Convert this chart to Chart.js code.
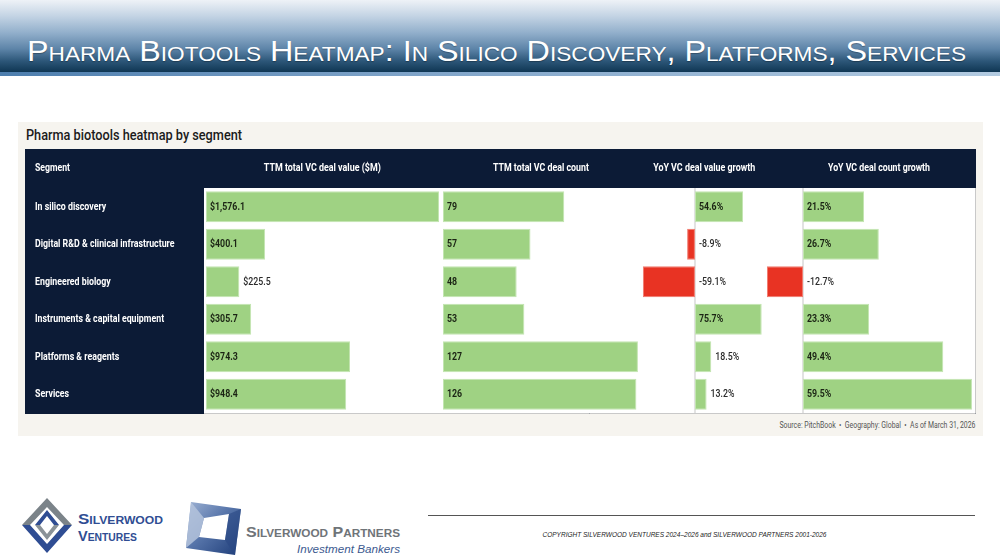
<!DOCTYPE html>
<html><head><meta charset="utf-8">
<script src="https://cdn.jsdelivr.net/npm/chart.js@4.4.1/dist/chart.umd.min.js"></script>
<style>
html,body{margin:0;padding:0;width:1000px;height:560px;overflow:hidden;background:#fff;font-family:Roboto,"Liberation Sans",sans-serif;}
.abs{position:absolute;}
.fit{display:inline-block;white-space:nowrap;}
#hdr{left:0;top:0;width:1000px;height:72px;background:linear-gradient(to bottom,#eef2f7 0%,#c4d4e4 22%,#93b0cc 45%,#5d84a8 68%,#2c5678 85%,#0f3653 100%);}
#stripe{left:0;top:72px;width:1000px;height:4px;background:linear-gradient(to right,#4d7eae 0%,#7ea3c8 40%,#b3cbe1 100%);}
#title{left:27px;top:34px;color:#fff;font-family:"Liberation Sans",Arial,sans-serif;font-size:30px;font-variant:small-caps;text-shadow:0 1px 1px rgba(0,0,0,0.3);}
#panel{left:18px;top:122px;width:965px;height:314px;background:#f6f4ef;}
#sub{left:26px;top:127px;font-size:14px;font-weight:500;color:#1b1b1b;}
#tbl{left:25px;top:149px;width:951px;height:265px;background:#0c1b36;}
.colh{top:161px;width:240px;text-align:center;color:#fff;font:bold 11px Roboto,sans-serif;}
#segh{left:35px;top:161px;color:#fff;font:bold 11px Roboto,sans-serif;}
#src{left:575px;width:400px;text-align:right;top:420px;color:#555;font:9px Roboto,sans-serif;}
#rule{left:428px;top:515px;width:547px;height:1px;background:#555;}
#copy{left:484px;width:400px;text-align:center;top:531px;font:italic 7px "Liberation Sans",Arial,sans-serif;color:#222;}
</style></head>
<body>
<div id="hdr" class="abs"></div>
<div id="stripe" class="abs"></div>
<div id="title" class="abs"><span class="fit" data-w="939" data-o="left">Pharma Biotools Heatmap: In Silico Discovery, Platforms, Services</span></div>
<div id="panel" class="abs"></div>
<div id="sub" class="abs"><span class="fit" data-w="216" data-o="left">Pharma biotools heatmap by segment</span></div>
<div id="tbl" class="abs"><canvas id="c" width="951" height="265"></canvas></div>
<div id="segh" class="abs"><span class="fit" data-w="35" data-o="left">Segment</span></div>
<div class="abs colh" style="left:202px"><span class="fit" id="hd0" data-w="117" data-o="center"></span></div>
<div class="abs colh" style="left:421px"><span class="fit" id="hd1" data-w="96" data-o="center"></span></div>
<div class="abs colh" style="left:584px"><span class="fit" id="hd2" data-w="102" data-o="center"></span></div>
<div class="abs colh" style="left:759px"><span class="fit" id="hd3" data-w="102" data-o="center"></span></div>
<div id="src" class="abs"><span class="fit" data-w="196" data-o="right">Source: PitchBook &nbsp;•&nbsp; Geography: Global &nbsp;•&nbsp; As of March 31, 2026</span></div>
<div id="rule" class="abs"></div>
<div id="copy" class="abs"><span class="fit" data-w="284" data-o="center">COPYRIGHT SILVERWOOD VENTURES 2024–2026 and SILVERWOOD PARTNERS 2001-2026</span></div>

<svg class="abs" style="left:0;top:480px" width="420" height="80" viewBox="0 480 420 80">
  <defs>
    <linearGradient id="pg" x1="0" y1="0" x2="1" y2="1">
      <stop offset="0" stop-color="#9fb3d4"/><stop offset="0.45" stop-color="#5876ab"/><stop offset="1" stop-color="#1d3c78"/>
    </linearGradient>
  </defs>
  <!-- Silverwood Ventures mark -->
  <polygon points="47,498 72,525 64,525 47,507 30,525 22,525" fill="#7b8389"/>
  <polygon points="22,525 30,525 47,544 64,525 72,525 47,553" fill="#2f4d93"/>
  <polygon points="47,510 59,525 54,525 47,516 40,525 35,525" fill="#2f4d93"/>
  <polygon points="35,525 40,525 47,534 54,525 59,525 47,540" fill="#8a9298"/>
  <text x="78" y="524" textLength="85" lengthAdjust="spacingAndGlyphs" font-family="Liberation Sans, Arial, sans-serif" font-weight="bold" font-size="14" fill="#2f4d93" style="font-variant:small-caps">Silverwood</text>
  <text x="78" y="541" textLength="59" lengthAdjust="spacingAndGlyphs" font-family="Liberation Sans, Arial, sans-serif" font-weight="bold" font-size="14" fill="#2f4d93" style="font-variant:small-caps">Ventures</text>
  <!-- Silverwood Partners mark -->
  <polygon points="191,502 241,509 235,555 186,548" fill="url(#pg)"/>
  <polygon points="204,518 229,514 225,540 199,537" fill="#ffffff"/>
  <polygon points="191,502 204,518 199,537 186,548" fill="#b4c3dc" opacity="0.85"/>
  <polygon points="225,540 229,514 241,509 235,555" fill="#2a4884" opacity="0.6"/>
  <text x="246" y="537" textLength="154" lengthAdjust="spacingAndGlyphs" font-family="Liberation Sans, Arial, sans-serif" font-weight="bold" font-size="15" fill="#6f7479" style="font-variant:small-caps">Silverwood Partners</text>
  <text x="297" y="553" textLength="103" lengthAdjust="spacingAndGlyphs" font-family="Liberation Sans, Arial, sans-serif" font-style="italic" font-size="11" fill="#3d5a90">Investment Bankers</text>
</svg>

<script>
// ---- data ----
const segments = ["In silico discovery","Digital R&D & clinical infrastructure","Engineered biology","Instruments & capital equipment","Platforms & reagents","Services"];
const dealValue = [1576.1, 400.1, 225.5, 305.7, 974.3, 948.4];
const dealCount = [79, 57, 48, 53, 127, 126];
const valueGrowth = [54.6, -8.9, -59.1, 75.7, 18.5, 13.2];
const countGrowth = [21.5, 26.7, -12.7, 23.3, 49.4, 59.5];
const columnTitles = ["TTM total VC deal value ($M)","TTM total VC deal count","YoY VC deal value growth","YoY VC deal count growth"];

columnTitles.forEach((t,i)=>{document.getElementById('hd'+i).textContent=t;});

// horizontally fit HTML text spans to their reference widths (condensed look)
document.querySelectorAll('.fit').forEach(el => {
  const w = el.getBoundingClientRect().width;
  const o = el.dataset.o || 'left';
  el.style.transformOrigin = o + ' center';
  el.style.transform = 'scaleX(' + (parseFloat(el.dataset.w) / w) + ')';
});

const GREEN = '#9fd283', RED = '#e83323';
const COND = 0.8;                 // horizontal compression for condensed look
const ROW_FONT = 'bold 11px Roboto, sans-serif';
const fmts = {
  money: v => '$' + v.toLocaleString('en-US',{minimumFractionDigits:1,maximumFractionDigits:1}),
  count: v => String(v),
  pct: v => v.toFixed(1) + '%'
};
const fill = ctx => (ctx.raw < 0 ? RED : GREEN);
const edge = ctx => (ctx.raw < 0 ? '#f07a6e' : '#c3e5b1');

function ds(data, axis, fmt){
  return {data, xAxisID: axis, fmt, backgroundColor: fill, borderColor: edge, borderWidth: 1,
          borderSkipped: false, grouped: false, barPercentage: 0.83, categoryPercentage: 1};
}

function condText(ctx, txt, x, y){
  ctx.save(); ctx.translate(x, y); ctx.scale(COND, 1); ctx.fillText(txt, 0, 0); ctx.restore();
}

const tablePlugin = {
  id: 'tablePlugin',
  beforeDraw(chart){
    const {ctx, chartArea: a} = chart;
    ctx.save();
    ctx.fillStyle = '#ffffff';
    ctx.fillRect(a.left, a.top, a.right - a.left, a.bottom - a.top);
    ctx.strokeStyle = '#c9c9c9'; ctx.lineWidth = 1;
    ctx.beginPath();
    ctx.moveTo(a.right + 0.5, a.top); ctx.lineTo(a.right + 0.5, a.bottom + 0.5); ctx.lineTo(a.left, a.bottom + 0.5);
    ctx.stroke();
    ['x3','x4'].forEach(id => {
      const x = chart.scales[id].getPixelForValue(0);
      ctx.fillStyle = '#e2e2e2';
      ctx.fillRect(x - 1, a.top, 2, a.bottom - a.top);
    });
    // segment labels from the category scale
    const ys = chart.scales.y;
    ctx.fillStyle = '#ffffff'; ctx.font = ROW_FONT; ctx.textAlign = 'left'; ctx.textBaseline = 'middle';
    ys.ticks.forEach((t, i) => condText(ctx, ys.getLabelForValue(t.value), 10, ys.getPixelForTick(i)));
    ctx.restore();
  },
  afterDatasetsDraw(chart){
    const ctx = chart.ctx;
    ctx.save();
    ctx.textBaseline = 'middle';
    ctx.textAlign = 'left';
    chart.data.datasets.forEach((d, di) => {
      const meta = chart.getDatasetMeta(di);
      meta.data.forEach((bar, i) => {
        const v = d.data[i];
        const txt = fmts[d.fmt](v);
        ctx.font = 'bold 11px Roboto, sans-serif';
        const w = ctx.measureText(txt).width * COND;
        const base = bar.base, end = bar.x;
        let x, color, font;
        if (v < 0) { x = base + 4; color = '#2b2b2b'; font = '500 11px Roboto, sans-serif'; }
        else if (end - base >= w + 8) { x = base + 4; color = '#1b2414'; font = 'bold 11px Roboto, sans-serif'; }
        else { x = end + 4; color = '#2b2b2b'; font = '500 11px Roboto, sans-serif'; }
        ctx.font = font; ctx.fillStyle = color;
        condText(ctx, txt, x, bar.y);
      });
    });
    ctx.restore();
  }
};

const xs = (min, max, weight) => ({type:'linear', position:'bottom', stack:'cols', stackWeight: weight,
  min, max, display:false, grid:{display:false}});

new Chart(document.getElementById('c'), {
  type: 'bar',
  data: {
    labels: segments,
    datasets: [
      ds(dealValue, 'x1', 'money'),
      ds(dealCount, 'x2', 'count'),
      ds(valueGrowth, 'x3', 'pct'),
      ds(countGrowth, 'x4', 'pct')
    ]
  },
  options: {
    indexAxis: 'y',
    responsive: false,
    animation: false,
    events: [],
    layout: {padding: {left: 10, top: 39, right: 1, bottom: 1}},
    plugins: {legend: {display: false}, tooltip: {enabled: false}},
    scales: {
      x1: xs(-13.5, 1589.7, 237),
      x2: xs(-1.3, 129.0, 200),
      x3: xs(-61.2, 78.3, 123),
      x4: xs(-13.73, 60.57, 211),
      y: {
        type: 'category', position: 'left', offset: true,
        grid: {display: false}, border: {display: false},
        afterFit: s => { s.width = 169; },
        ticks: {display: false}
      }
    }
  },
  plugins: [tablePlugin]
});
</script>
</body></html>
